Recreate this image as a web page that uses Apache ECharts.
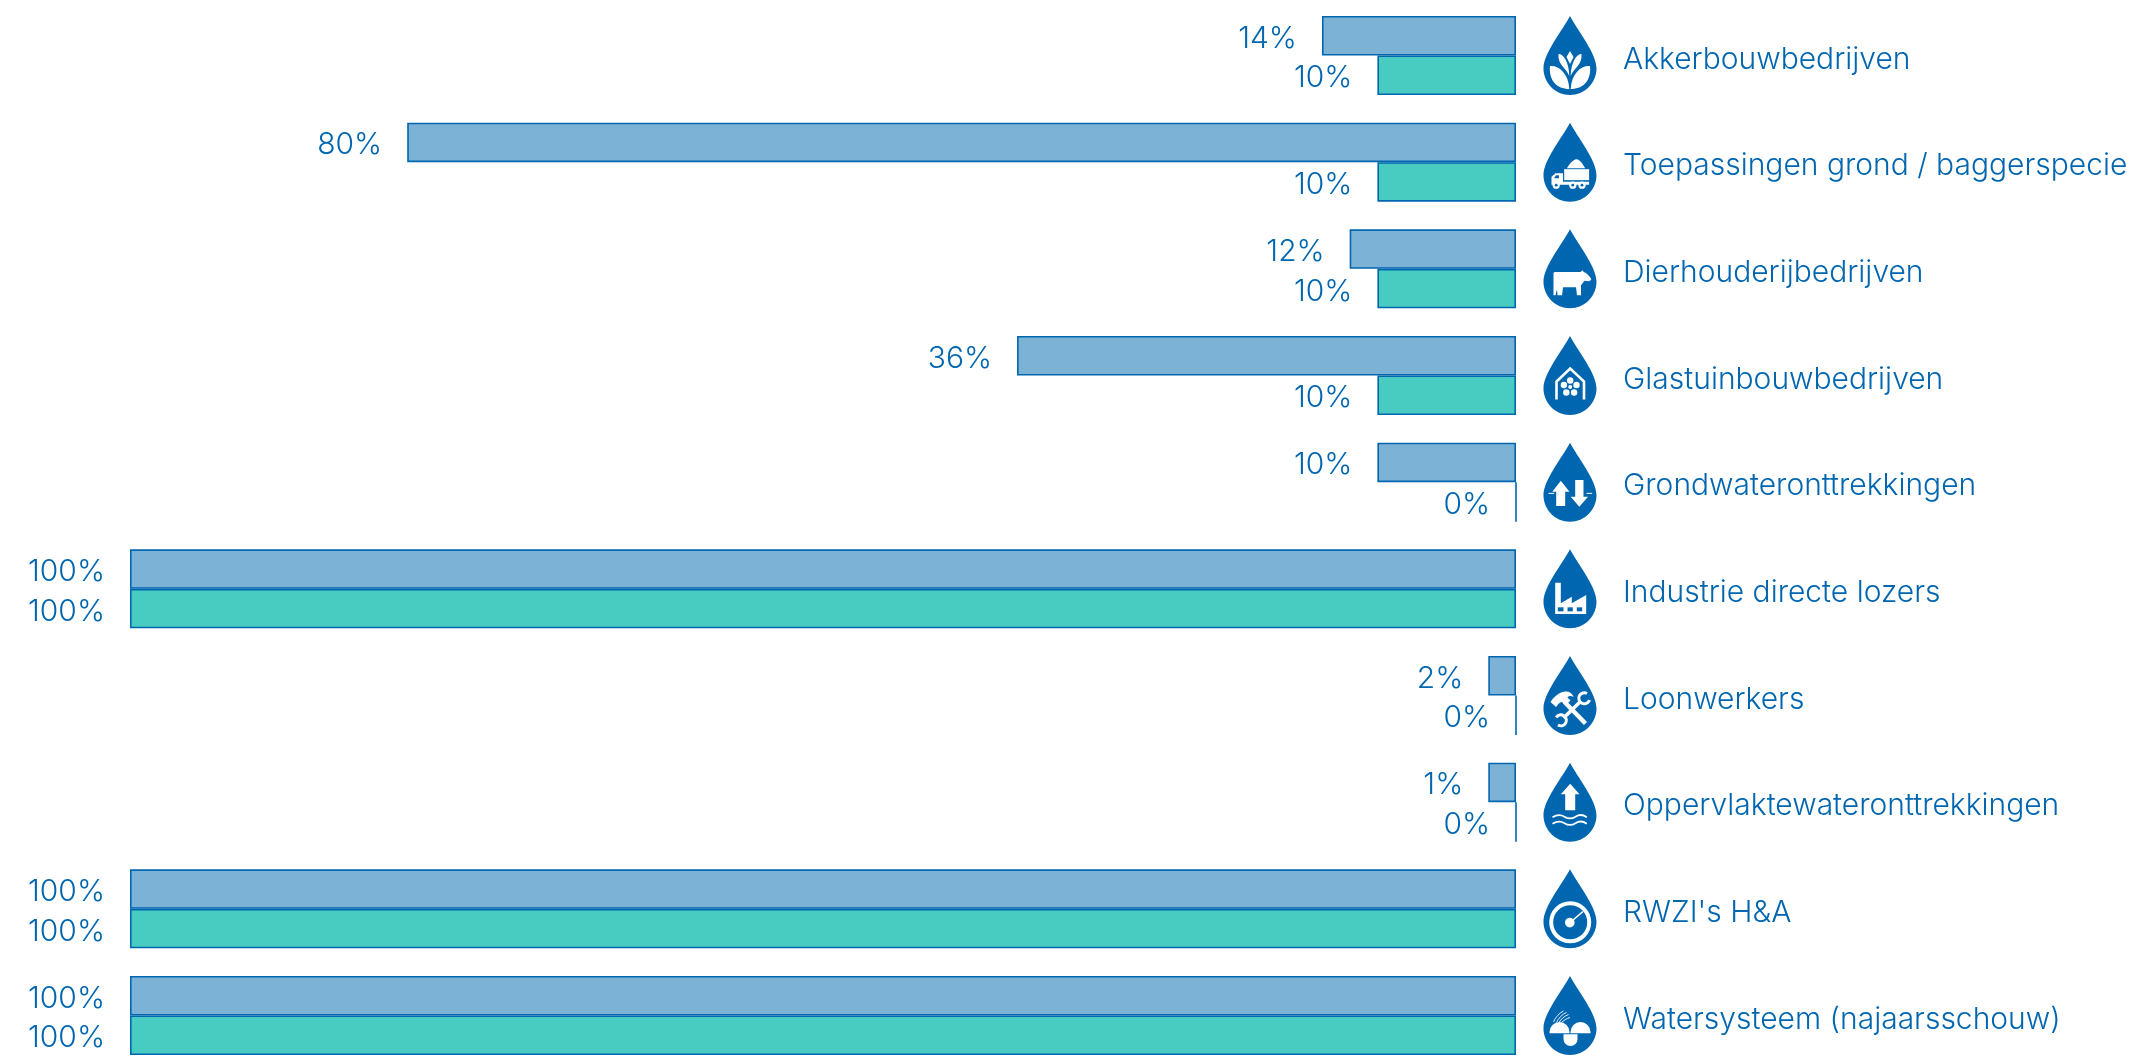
<!DOCTYPE html>
<html>
<head>
<meta charset="utf-8">
<style>
  html,body{margin:0;padding:0;background:#fff}
  #main{width:2137px;height:1056px}
</style>
<script src="https://cdn.jsdelivr.net/npm/echarts@6/dist/echarts.min.js"></script>
</head>
<body>
<div id="main"></div>
<script>
const categories = ['Akkerbouwbedrijven','Toepassingen grond / baggerspecie','Dierhouderijbedrijven','Glastuinbouwbedrijven','Grondwateronttrekkingen','Industrie directe lozers','Loonwerkers','Oppervlaktewateronttrekkingen',"RWZI's H&A",'Watersysteem (najaarsschouw)']
// bar lengths as drawn
const blueValues = [14,80,12,36,10,100,2,2,100,100]
const tealValues = [10,10,10,10,0,100,0,0,100,100]
// printed percentages (the 1% bar is drawn as long as the 2% one)
const blueLabels = [14,80,12,36,10,100,2,1,100,100]
const tealLabels = [10,10,10,10,0,100,0,0,100,100]
const icons = ['plant','truck','cow','greenhouse','updown','factory','tools','arrowwave','gauge','wave']

const BLUE = '#0066b0'
const WHITE = '#fff'
const FONT = 'Inter'

// icon parts, drawn in a 53x79 box on top of the drop
const drop = 'M26.5 0C20 13 0 37 0 52.5C0 67 12 79 26.5 79C41 79 53 67 53 52.5C53 37 33 13 26.5 0Z'
function circle(cx,cy,r){
  return `M${cx-r} ${cy}A${r} ${r} 0 1 1 ${cx+r} ${cy}A${r} ${r} 0 1 1 ${cx-r} ${cy}Z`
}
function line(d,w,color){
  return {d:d,stroke:color||WHITE,lineWidth:w}
}
const iconParts = {
  plant:[
    {d:'M6.5 50C15 49 25 57 25.8 73C13 73 5 64 6.5 50Z'},
    {d:'M46.5 50C38 49 28 57 27.2 73C40 73 48 64 46.5 50Z'},
    {d:'M15 38C20 38 25.5 46 25.8 60C23 52 14 49 15 38Z'},
    {d:'M38 38C33 38 27.5 46 27.2 60C30 52 39 49 38 38Z'},
    {d:'M26.5 35L30 41L26.5 48L23 41Z'}
  ],
  truck:[
    {d:'M23.5 45.7C25 43 29 37 33 36.7C37 37 40 43 41.7 45.7Z'},
    {d:'M20.7 46.5H45.6V57.5H20.7Z'},
    {d:'M8 54L12 50.5H19.5V59H45.6V62H8Z'},
    {d:circle(12.7,62.5,3.6)},{d:circle(29.3,62.5,3.6)},{d:circle(38.5,62.5,3.6)},
    {d:circle(12.7,62.5,1.4),fill:BLUE},{d:circle(29.3,62.5,1.4),fill:BLUE},{d:circle(38.5,62.5,1.4),fill:BLUE},
    {d:'M12.5 52.5H15.5V55.5H10.5Z',fill:BLUE}
  ],
  cow:[
    {d:'M10 44C10 43 11 42.7 12 42.7H37L39 41L40.5 43C43 43.5 47.5 48 47.8 50.5L45.5 52L41 51.5L37.5 56V66H33.5L32.5 58H19.5L18.5 66H14L13.5 60L12 66H10Z'}
  ],
  greenhouse:[
    line('M13 63.5V45.5L26.7 32.5L40.5 45.5V63.5',2.6),
    {d:circle(26.7,44.5,3.2)},{d:circle(33,49,3.2)},{d:circle(30.6,56.5,3.2)},{d:circle(22.8,56.5,3.2)},{d:circle(20.4,49,3.2)},
    {d:circle(26.7,51,2)}
  ],
  updown:[
    {d:'M17.3 38L26 49H21.7V63.3H12.7V49H8.8Z'},
    {d:'M31.7 37.3H40V54H44.5L35.8 64L27.2 54H31.7Z'},
    line('M5 50.7H10.7',1),
    line('M43 50.7H48.7',1)
  ],
  factory:[
    {d:'M11.7 33.3H17.3V54L28.3 47.3V54L42.7 45.7V64.7H11.7Z'},
    {d:'M14.3 58H20V62H14.3Z',fill:BLUE},{d:'M24 58H29.3V62H24Z',fill:BLUE},{d:'M33.3 58H38.7V62H33.3Z',fill:BLUE}
  ],
  tools:[
    {d:'M7 46C11 40 17 35.5 22 35.5C26 35.5 29 37.5 30 41C27 39.5 25 40 24 41.5L27 44.5L22 49.5L18.5 46C16 46 14 49 12.5 51Z'},
    line('M21 46L42 67.5',4.4),
    line('M37 45.5L20 62',3.6),
    line('M43.5 37.5A5.5 5.5 0 1 0 46 44',3),
    line('M14.5 69A5.5 5.5 0 1 0 12.7 61.5',3)
  ],
  arrowwave:[
    {d:'M26.7 21L36 31.7H31.7V47.7H21.7V31.7H17.3Z'},
    line('M9 54.5C14 51.5 17 51.5 21 54C25 56.5 28 56.5 32 54C36 51.5 39 51.5 43.3 54.5',1.8),
    line('M9 61C14 58 17 58 21 60.5C25 63 28 63 32 60.5C36 58 39 58 43.3 61',1.8)
  ],
  gauge:[
    line(circle(26.7,53,19),4),
    {d:circle(26.3,53.3,4.8)},
    line('M27 53L39.3 42.3',1.4)
  ],
  wave:[
    {d:'M6 57.3V56A10 10 0 0 1 26 56V57.3Z'},
    {d:'M27 57.3V56A10 10 0 0 1 47 56V57.3Z'},
    {d:'M20 58.3H34V63A7 7 0 0 1 20 63Z'},
    line('M10 46C12 41 16 37 20 35',0.9),
    line('M13 46.5C15 42 19 38 23 36.5',0.9),
    line('M15.5 46.5C17.5 43 21 40 25 38.5',0.9),
    line('M18 46.5C20 44.5 23 42.5 26.5 41.5',0.9)
  ]
}

function renderIcon(params, api){
  const pt = api.coord([0, api.value(1)])
  const parts = iconParts[icons[params.dataIndex]]
  const children = [{type:'path',shape:{pathData:drop},style:{fill:BLUE}}]
  parts.forEach(p => {
    children.push({
      type:'path',
      shape:{pathData:p.d},
      style: p.stroke
        ? {fill:'none',stroke:p.stroke,lineWidth:p.lineWidth,lineCap:'butt'}
        : {fill:p.fill||WHITE}
    })
  })
  return {type:'group',x:pt[0]+27.5,y:pt[1]-39.5,children:children}
}

function barLabel(labels){
  return {
    show:true,
    position:'left',
    distance:25,
    offset:[0,3],
    color:BLUE,
    fontFamily:FONT,
    fontWeight:300,
    fontSize:30,
    formatter:p => labels[p.dataIndex]+'%'
  }
}

const chart = echarts.init(document.getElementById('main'),null,{renderer:'canvas'})
chart.setOption({
  backgroundColor:'#fff',
  animation:false,
  // first and last band centres sit on the grid edges, the 10 rows are 106.67px apart
  grid:{left:130,top:55.5,width:1386,height:960},
  xAxis:{type:'value',inverse:true,min:0,max:100,show:false},
  yAxis:{
    type:'category',
    data:categories,
    inverse:true,
    boundaryGap:false,
    position:'right',
    axisLine:{show:false},
    axisTick:{show:false},
    splitLine:{show:false},
    axisLabel:{
      margin:107,
      align:'left',
      interval:0,
      formatter:v => '{t|'+v+'}',
      rich:{
        t:{color:BLUE,fontFamily:FONT,fontWeight:300,fontSize:30,padding:[8,0,0,0]}
      }
    }
  },
  series:[
    {
      type:'bar',name:'blue',data:blueValues,barWidth:39.5,barGap:'0%',
      itemStyle:{color:'#7cb2d6',borderColor:BLUE,borderWidth:1.6},
      label:barLabel(blueLabels)
    },
    {
      type:'bar',name:'teal',data:tealValues,barWidth:39.5,barGap:'0%',
      itemStyle:{color:'#48ccc2',borderColor:BLUE,borderWidth:1.6},
      label:barLabel(tealLabels)
    },
    {
      type:'custom',name:'icons',silent:true,clip:false,
      renderItem:renderIcon,
      data:icons.map((n,i) => [0,i]),
      encode:{x:0,y:1},
      z:5
    }
  ]
})
</script>
</body>
</html>
